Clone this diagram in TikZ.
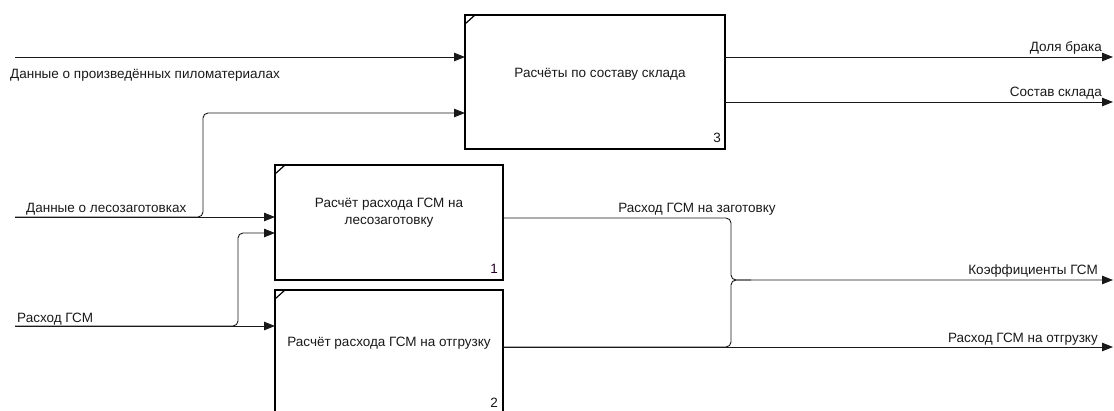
\documentclass[tikz,border=0pt]{standalone}
\usepackage{fontspec}
\setmainfont{Liberation Sans}
\usetikzlibrary{arrows.meta}
\begin{document}
\begin{tikzpicture}[x=1pt,y=-1pt,
  blk/.style={draw=black,line width=2.8pt,fill=white,anchor=north west,inner sep=0pt,outer sep=0pt},
  conn/.style={line width=0.9pt,draw=black!90},
  arr/.style={conn,-{Triangle[length=11pt,width=8.5pt]}},
  rnd/.style={rounded corners=5pt},
  lbl/.style={inner sep=0pt,font=\fontsize{13.5}{16}\selectfont,text=black!90},
  cornermark/.style={line width=1.2pt}
]
\useasboundingbox (0,0) rectangle (1114,410);

% boxes
\node[blk,minimum width=260pt,minimum height=134pt] (b3) at (465,15) {};
\node[blk,minimum width=228pt,minimum height=115pt] (b1) at (275,165) {};
\node[blk,minimum width=228pt,minimum height=124pt] (b2) at (275,290) {};

% corner marks
\draw[cornermark] ([yshift=-9pt]b3.north west) -- ([xshift=10pt]b3.north west);
\draw[cornermark] ([yshift=-9pt]b1.north west) -- ([xshift=10pt]b1.north west);
\draw[cornermark] ([yshift=-9pt]b2.north west) -- ([xshift=10pt]b2.north west);

% box texts
\node[lbl,anchor=base] (t3) at (600,77) {Расчёты по составу склада};
\node[lbl,anchor=base] (t1a) at (389,207) {Расчёт расхода ГСМ на};
\node[lbl,anchor=base] (t1b) at (389,224) {лесозаготовку};
\node[lbl,anchor=base] (t2) at (389,346) {Расчёт расхода ГСМ на отгрузку};
\node[lbl,anchor=base east] (n3) at (721,142) {3};
\node[lbl,anchor=base east,text=black!70!violet] (n1) at (498,273) {1};
\node[lbl,anchor=base east] (n2) at (498,407) {2};

% inputs
\coordinate (i1) at (15,57);
\coordinate (i2) at (15,217);
\coordinate (i3) at (15,326);
\coordinate (j1) at (203,113);
\coordinate (j2) at (238,233);
\draw[arr] (i1) -- (i1 -| b3.west);
\draw[arr] (i2) -- (i2 -| b1.west);
\draw[arr,rnd] (i2) -| (j1) -- (j1 -| b3.west);
\draw[arr] (i3) -- (i3 -| b2.west);
\draw[arr,rnd] (i3) -| (j2) -- (j2 -| b1.west);

\node[lbl,anchor=base west] (l1) at (10,78) {Данные о произведённых пиломатериалах};
\node[lbl,anchor=base west] (l2) at (26,212) {Данные о лесозаготовках};
\node[lbl,anchor=base west] (l3) at (17,322) {Расход ГСМ};

% outputs
\coordinate (o1) at (1113,57);
\coordinate (o2) at (1113,102);
\coordinate (o3) at (1113,280);
\coordinate (o4) at (1113,347);
\coordinate (k) at (731,280);
\draw[arr] (o1 -| b3.east) -- (o1);
\draw[arr] (o2 -| b3.east) -- (o2);
\draw[arr,rnd] (b1.east |- 0,218) -| (k) -- (o3);
\draw[arr] (o4 -| b2.east) -- (o4);
\draw[conn,rnd] (o4 -| b2.east) -| (k) -- ([xshift=20pt]k);

\node[lbl,anchor=base east] (l4) at (1102,51) {Доля брака};
\node[lbl,anchor=base east] (l5) at (1102,96) {Состав склада};
\node[lbl,anchor=base] (l6) at (697,212) {Расход ГСМ на заготовку};
\node[lbl,anchor=base east] (l7) at (1098,274) {Коэффициенты ГСМ};
\node[lbl,anchor=base east] (l8) at (1098,342) {Расход ГСМ на отгрузку};
\end{tikzpicture}
\end{document}
